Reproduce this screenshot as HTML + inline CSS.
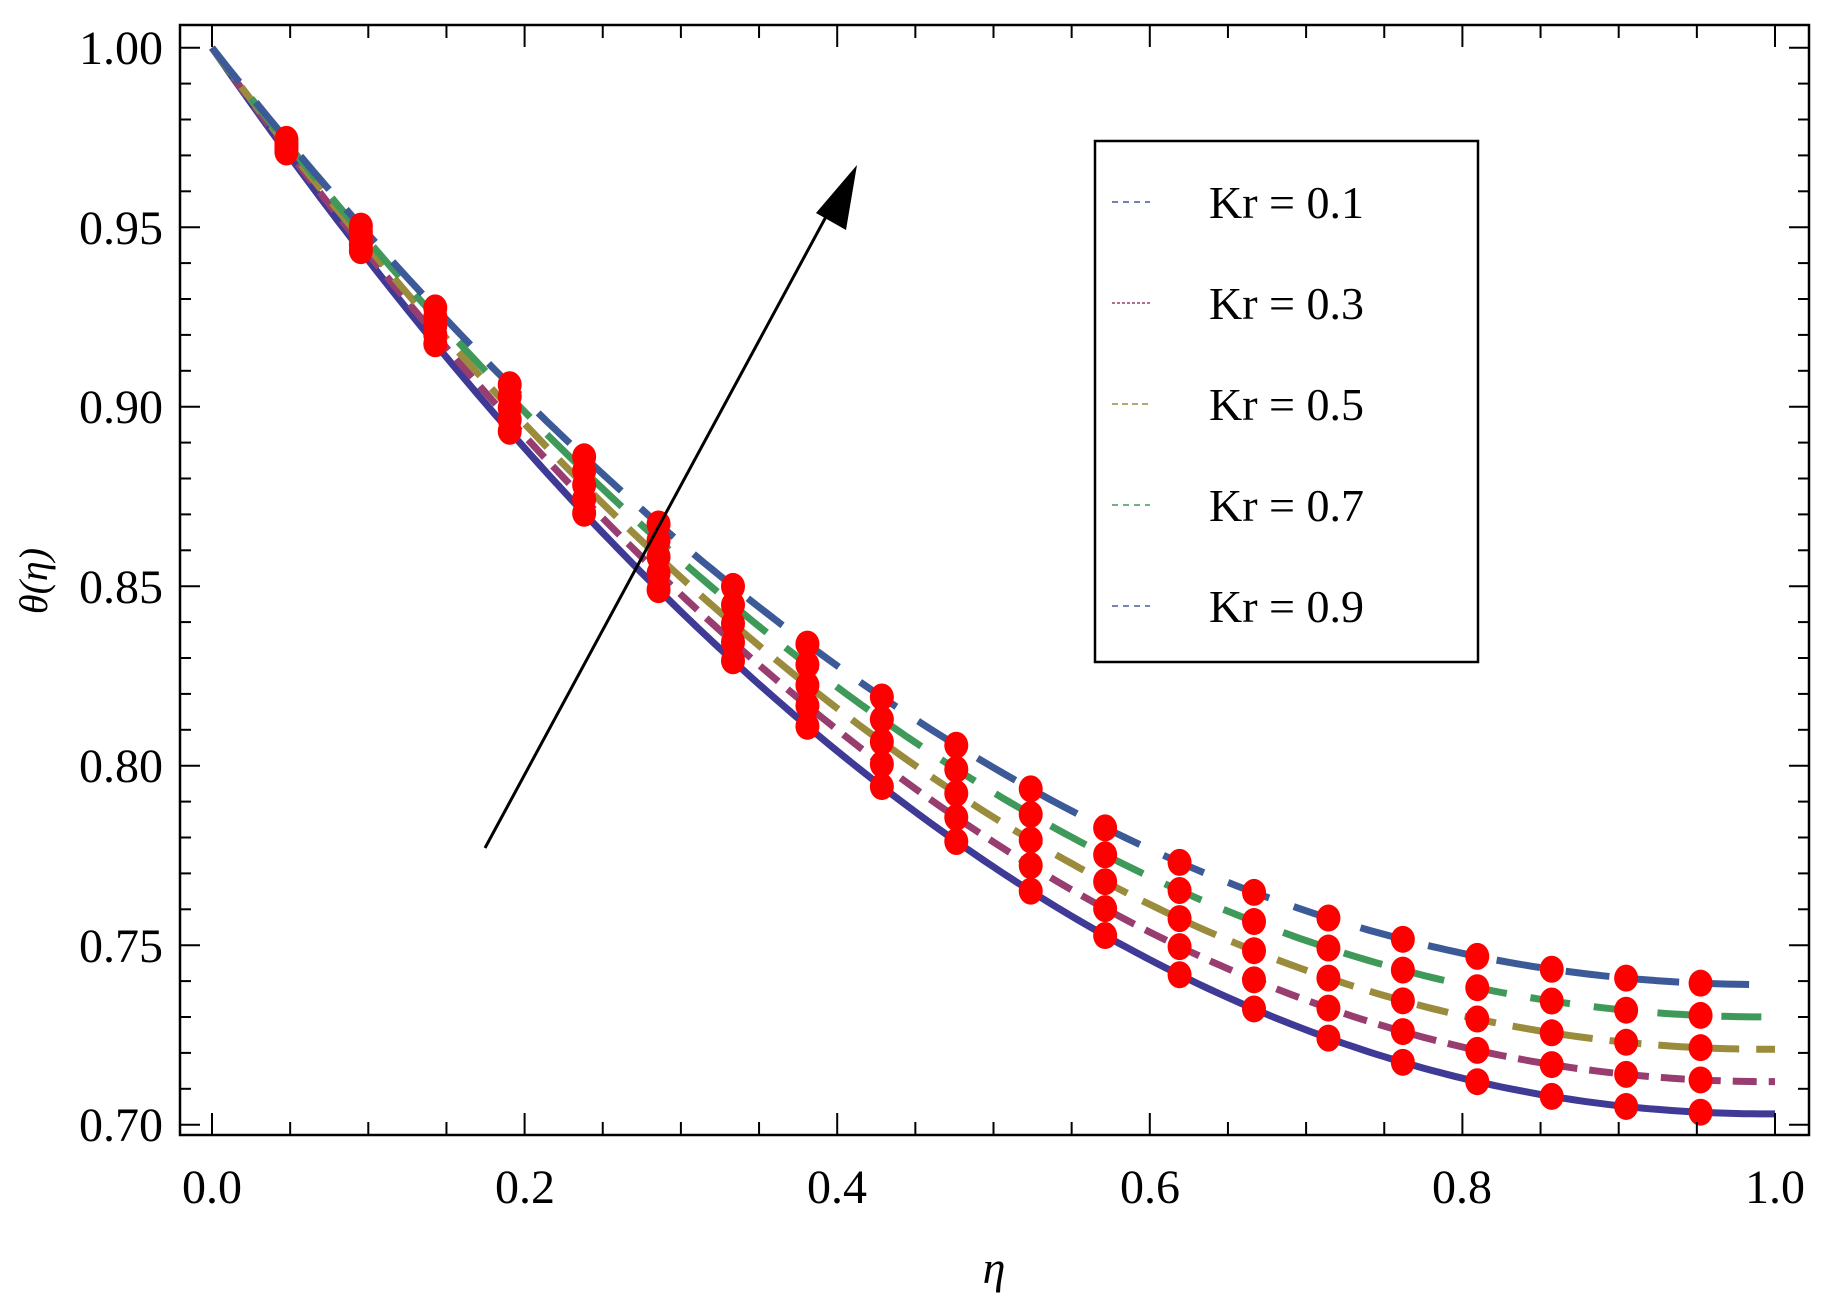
<!DOCTYPE html>
<html><head><meta charset="utf-8"><style>
html,body{margin:0;padding:0;background:#fff;}
svg{display:block;}
text{font-family:"Liberation Serif",serif;fill:#000;}
</style></head><body>
<svg id="s" width="1833" height="1315" viewBox="0 0 1833 1315" xmlns="http://www.w3.org/2000/svg">
<rect x="0" y="0" width="1833" height="1315" fill="#fff"/>
<g id="curves"></g>
<g id="dots" fill="#ff0000"></g>
<rect x="180" y="25" width="1629" height="1110" fill="none" stroke="#000" stroke-width="2.5"/>
<g id="ticks" stroke="#000" stroke-width="2"></g>
<g font-size="48" text-anchor="end">
<text x="163" y="64">1.00</text>
<text x="163" y="244">0.95</text>
<text x="163" y="423">0.90</text>
<text x="163" y="603">0.85</text>
<text x="163" y="782">0.80</text>
<text x="163" y="962">0.75</text>
<text x="163" y="1141">0.70</text>
</g>
<g font-size="48" text-anchor="middle">
<text x="212" y="1203">0.0</text>
<text x="525" y="1203">0.2</text>
<text x="837" y="1203">0.4</text>
<text x="1150" y="1203">0.6</text>
<text x="1462" y="1203">0.8</text>
<text x="1775" y="1203">1.0</text>
</g>
<text x="994" y="1283" font-size="46" font-style="italic" text-anchor="middle">η</text>
<text transform="translate(47,581) rotate(-90)" font-size="40" font-style="italic" text-anchor="middle">θ(η)</text>
<line x1="485" y1="848" x2="835" y2="200" stroke="#000" stroke-width="3"/>
<polygon points="857,165 816,213 846,230" fill="#000"/>
<rect x="1095" y="141" width="383" height="521" fill="#fff" stroke="#000" stroke-width="2.5"/>
<g stroke-width="1.5">
<line x1="1112" y1="202" x2="1150" y2="202" stroke="#3e5a98" stroke-dasharray="6 5"/>
<line x1="1112" y1="303" x2="1150" y2="303" stroke="#983d6f" stroke-dasharray="3 2"/>
<line x1="1112" y1="404" x2="1150" y2="404" stroke="#9a8b3d" stroke-dasharray="6 4"/>
<line x1="1112" y1="505" x2="1150" y2="505" stroke="#3f9a5a" stroke-dasharray="6 5"/>
<line x1="1112" y1="606" x2="1150" y2="606" stroke="#4a5a98" stroke-dasharray="6 5"/>
</g>
<g font-size="46">
<text x="1209" y="218">Kr = 0.1</text>
<text x="1209" y="319">Kr = 0.3</text>
<text x="1209" y="420">Kr = 0.5</text>
<text x="1209" y="521">Kr = 0.7</text>
<text x="1209" y="622">Kr = 0.9</text>
</g>
</svg>
<script>
(function(){
var NS="http://www.w3.org/2000/svg";
function X(e){return 212+1563*e;}
function Y(t){return 47.7+(1-t)*3590;}
var ticks=document.getElementById('ticks');
function ln(x1,y1,x2,y2){var l=document.createElementNS(NS,'line');l.setAttribute('x1',x1);l.setAttribute('y1',y1);l.setAttribute('x2',x2);l.setAttribute('y2',y2);ticks.appendChild(l);}
for(var i=0;i<=30;i++){var y=Y(1-i*0.01);if(y>1134)continue;var L=(i%5==0)?20:11;ln(180,y,180+L,y);ln(1809,y,1809-L,y);}
for(var i=0;i<=20;i++){var x=X(i*0.05);var L=(i%4==0)?22:13;ln(x,1135,x,1135-L);ln(x,25,x,25+L);}
var cs=[{c:0.703,col:"#3e3a96",d:null},{c:0.712,col:"#983d6f",d:"24 12"},{c:0.721,col:"#9a8b3d",d:"32 17"},{c:0.730,col:"#3f9a5a",d:"40 24"},{c:0.739,col:"#3d5a98",d:"44 26"}];
var g=document.getElementById('curves'),dg=document.getElementById('dots');
function f(c,e){return c+(1-c)*Math.pow(1-e,2.11);}
cs.forEach(function(o){var p="";for(var k=0;k<=200;k++){var e=k/200;p+=(k?"L":"M")+X(e).toFixed(1)+","+Y(f(o.c,e)).toFixed(1);}
var pa=document.createElementNS(NS,'path');pa.setAttribute('d',p);pa.setAttribute('fill','none');pa.setAttribute('stroke',o.col);pa.setAttribute('stroke-width','7');if(o.d)pa.setAttribute('stroke-dasharray',o.d);g.appendChild(pa);
for(var k=1;k<=20;k++){var e=k/21;var el=document.createElementNS(NS,'ellipse');el.setAttribute('cx',X(e));el.setAttribute('cy',Y(f(o.c,e)));el.setAttribute('rx',12);el.setAttribute('ry',13.5);dg.appendChild(el);}
});
})();
</script>
</body></html>
